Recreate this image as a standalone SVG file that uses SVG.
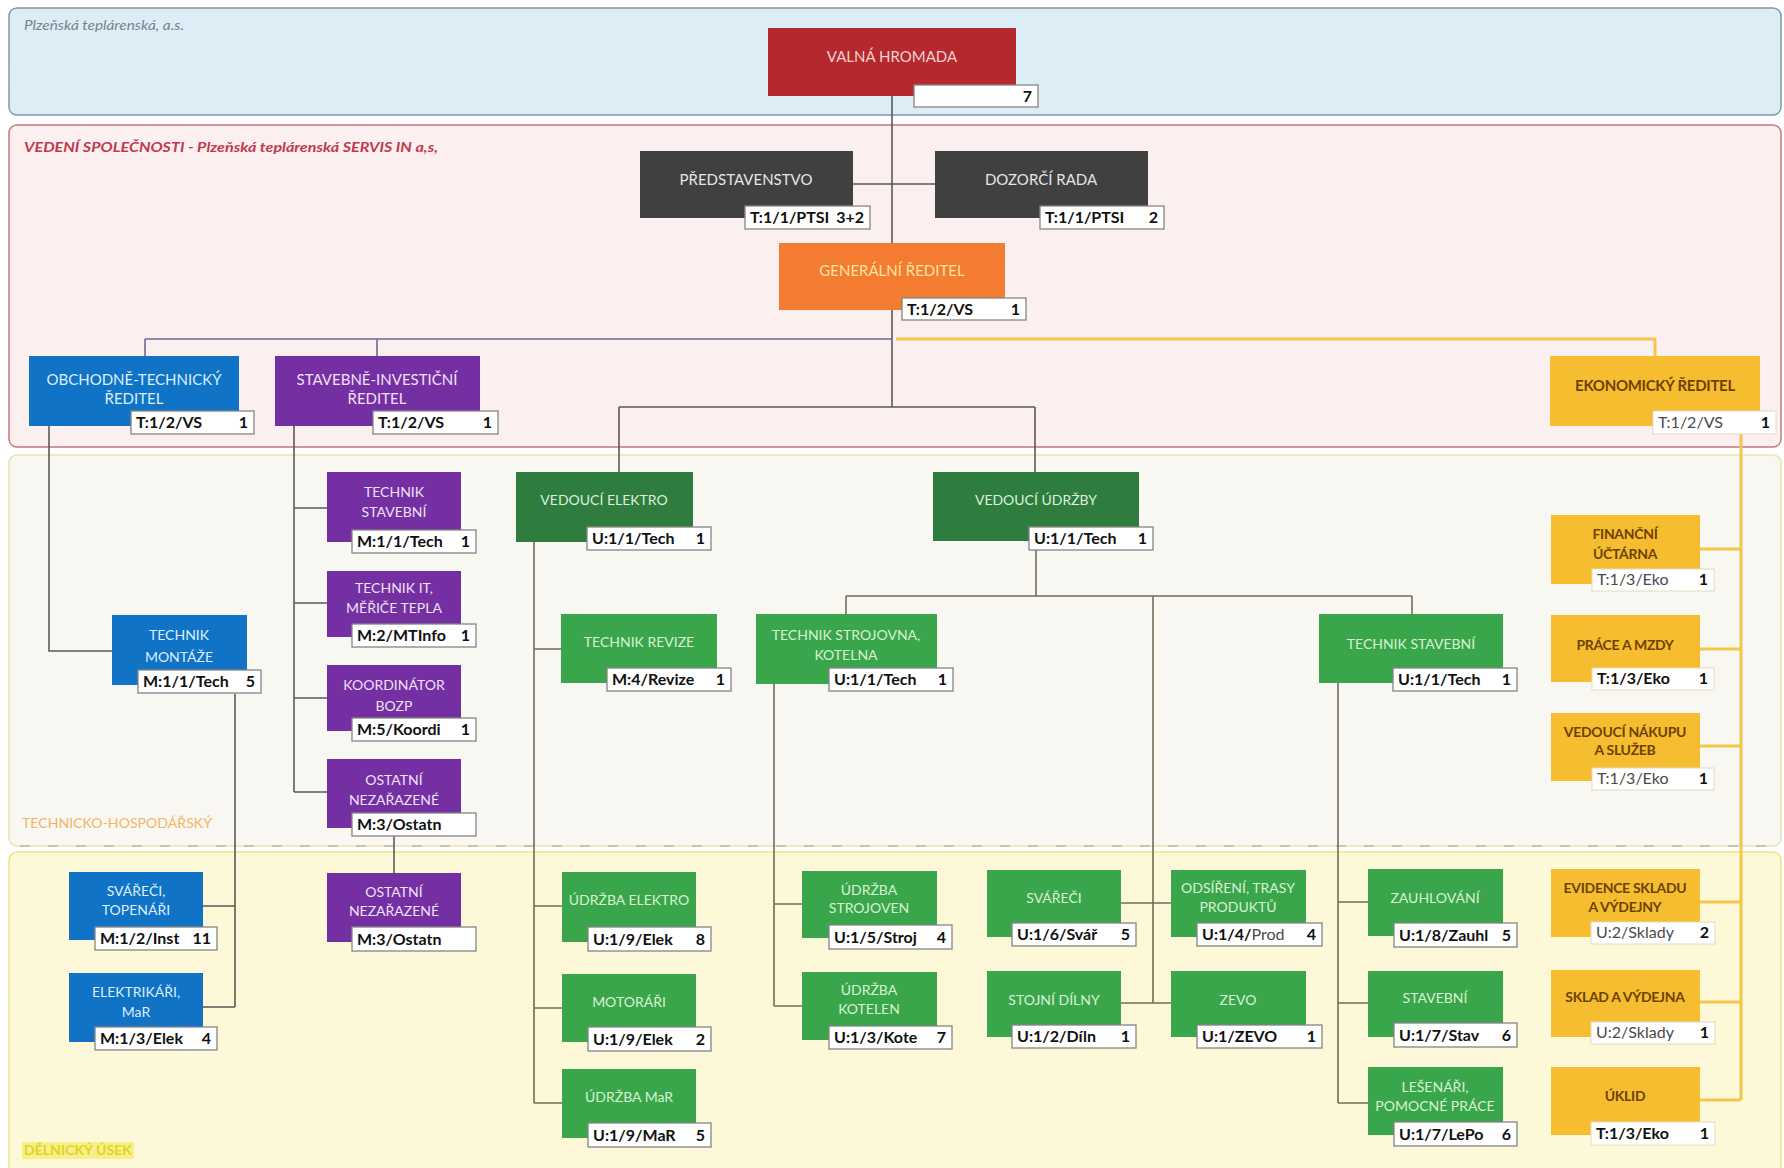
<svg xmlns="http://www.w3.org/2000/svg" width="1784" height="1168" viewBox="0 0 1784 1168">
<style>
.band{stroke-width:1.5}
.t{font-family:Lato,"Liberation Sans",sans-serif;font-size:14px;text-anchor:middle}
.tb{font-size:15px}
.tw{fill:#f2d2d2}.tg{fill:#e6e6e6}.to{fill:#fde3a6}.tbl{fill:#dcefff}.tp{fill:#f0e0f8}.tdg{fill:#dcefdc}.tlg{fill:#d8f2d2}
.ty{fill:#6e4200;font-weight:bold;letter-spacing:-0.3px}
.red{fill:#b5282d}.dg{fill:#404040}.or{fill:#f47c30}.bl{fill:#1073c6}.pu{fill:#7430a2}.gd{fill:#2f7d3e}.gl{fill:#3aa64b}.ye{fill:#f6bd30}
.lb{fill:#fff;stroke:#858585;stroke-width:1.3}
.lby{fill:#fff;stroke:#e2dcc0;stroke-width:1}
.lc{font-family:Lato,"Liberation Sans",sans-serif;font-weight:bold;font-size:16px;fill:#111}
.lg{fill:#4a4a4a;font-weight:normal}
.ln{font-family:Lato,"Liberation Sans",sans-serif;font-weight:bold;font-size:16px;fill:#111;text-anchor:end}
.c{fill:none;stroke:#5a5a5a;stroke-width:1.6}
.cg{fill:none;stroke:#6e6e58;stroke-width:1.6}
.cb{fill:none;stroke:#6a6a98;stroke-width:1.6}
.cy{fill:none;stroke:#f4c64a;stroke-width:3}
</style>

<g id="bands">
<rect class="band" x="9" y="8" width="1772" height="107" rx="8" fill="#dcedf6" stroke="#8297a8"/>
<rect class="band" x="9" y="125" width="1772" height="322" rx="8" fill="#fbefef" stroke="#c27a84"/>
<rect class="band" x="9" y="455" width="1772" height="391" rx="8" fill="#f9f7f1" stroke="#ebe2b0"/>
<rect class="band" x="9" y="852" width="1772" height="330" rx="8" fill="#fdf9d8" stroke="#efe47f"/>
<line x1="20" y1="846" x2="1775" y2="846" stroke="#a0a0a0" stroke-width="1" stroke-dasharray="10 18"/>
<text x="24" y="30" font-family="Lato,'Liberation Sans',sans-serif" font-style="italic" font-size="14" fill="#74848f" textLength="160" lengthAdjust="spacingAndGlyphs">Plzeňská teplárenská, a.s.</text>
<text x="24" y="152" font-family="Lato,'Liberation Sans',sans-serif" font-style="italic" font-weight="bold" font-size="14" fill="#c0394f" textLength="414" lengthAdjust="spacingAndGlyphs">VEDENÍ SPOLEČNOSTI - Plzeňská teplárenská SERVIS IN a,s,</text>
<text x="22" y="828" font-family="Lato,'Liberation Sans',sans-serif" font-size="13" fill="#f2b56a" textLength="190" lengthAdjust="spacingAndGlyphs">TECHNICKO-HOSPODÁŘSKÝ</text>
<rect x="22" y="1142" width="112" height="17" fill="#f6f08a"/>
<text x="24" y="1155" font-family="Lato,'Liberation Sans',sans-serif" font-weight="bold" font-size="13" fill="#e0d428" textLength="108" lengthAdjust="spacingAndGlyphs">DĚLNICKÝ ÚSEK</text>
</g>

<g id="connectors">
<path class="c" d="M892,96 V243 M853,184 H935 M892,310 V407 M619,407 H1035 M619,407 V472 M1035,407 V472"/>
<path class="cb" d="M145,339 H892 M145,339 V356 M377,339 V356"/>
<path class="c" d="M49,426 V651 H112"/>
<path class="c" d="M294,426 V792 M294,508 H327 M294,603 H327 M294,698 H327 M294,792 H327"/>
<path class="c" d="M235,694 V1007 M203,906 H235 M203,1007 H235"/>
<path class="c" d="M394,836 V873"/>
<path class="cg" d="M534,542 V1103 M534,649 H561 M534,906 H562 M534,1008 H562 M534,1103 H562"/>
<path class="cg" d="M1036,550 V596 M846,596 H1412 M846,596 V614 M1412,596 V614 M1153,596 V1003"/>
<path class="cg" d="M774,684 V1006 M774,904 H802 M774,1006 H802"/>
<path class="cg" d="M1121,903 H1171 M1121,1003 H1171"/>
<path class="cg" d="M1338,683 V1103 M1338,902 H1368 M1338,1003 H1368 M1338,1103 H1368"/>
<path class="cy" d="M896,339 H1655 V356"/>
<path class="cy" d="M1741,434 V1100 M1700,549 H1741 M1700,649 H1741 M1700,746 H1741 M1700,902 H1741 M1700,1002 H1741 M1700,1100 H1741"/>
</g>

<g id="n-valna-hromada"><rect class="red" x="768" y="28" width="248" height="68"/><text class="t tb tw" x="892" y="62">VALNÁ HROMADA</text><rect class="lb" x="914" y="85" width="124" height="22"/><text class="ln" x="1032" y="102">7</text></g>
<g id="n-predstavenstvo"><rect class="dg" x="640" y="151" width="213" height="67"/><text class="t tb tg" x="746" y="185">PŘEDSTAVENSTVO</text><rect class="lb" x="745" y="206" width="125" height="23"/><text class="lc" x="750" y="223">T:1/1/PTSI</text><text class="ln" x="864" y="223">3+2</text></g>
<g id="n-dozorci-rada"><rect class="dg" x="935" y="151" width="213" height="67"/><text class="t tb tg" x="1041" y="185">DOZORČÍ RADA</text><rect class="lb" x="1040" y="206" width="124" height="23"/><text class="lc" x="1045" y="223">T:1/1/PTSI</text><text class="ln" x="1158" y="223">2</text></g>
<g id="n-generalni-reditel"><rect class="or" x="779" y="243" width="226" height="67"/><text class="t tb to" x="892" y="276">GENERÁLNÍ ŘEDITEL</text><rect class="lb" x="902" y="298" width="124" height="22"/><text class="lc" x="907" y="315">T:1/2/VS</text><text class="ln" x="1020" y="315">1</text></g>
<g id="n-obchodne-technicky"><rect class="bl" x="29" y="356" width="210" height="70"/><text class="t tb tbl" x="134" y="385">OBCHODNĚ-TECHNICKÝ</text><text class="t tb tbl" x="134" y="404">ŘEDITEL</text><rect class="lb" x="131" y="411" width="123" height="23"/><text class="lc" x="136" y="428">T:1/2/VS</text><text class="ln" x="248" y="428">1</text></g>
<g id="n-stavebne-investicni"><rect class="pu" x="275" y="356" width="205" height="70"/><text class="t tb tp" x="377" y="385">STAVEBNĚ-INVESTIČNÍ</text><text class="t tb tp" x="377" y="404">ŘEDITEL</text><rect class="lb" x="373" y="411" width="125" height="23"/><text class="lc" x="378" y="428">T:1/2/VS</text><text class="ln" x="492" y="428">1</text></g>
<g id="n-ekonomicky-reditel"><rect class="ye" x="1550" y="356" width="210" height="70"/><text class="t tb ty" x="1655" y="391">EKONOMICKÝ ŘEDITEL</text><rect class="lby" x="1653" y="411" width="123" height="23"/><text class="lc lg" x="1658" y="428">T:1/2/VS</text><text class="ln" x="1770" y="428">1</text></g>

<g id="n-technik-stavebni-m"><rect class="pu" x="327" y="472" width="134" height="70"/><text class="t tp" x="394" y="497">TECHNIK</text><text class="t tp" x="394" y="517">STAVEBNÍ</text><rect class="lb" x="352" y="530" width="124" height="23"/><text class="lc" x="357" y="547">M:1/1/Tech</text><text class="ln" x="470" y="547">1</text></g>
<g id="n-technik-it"><rect class="pu" x="327" y="571" width="134" height="66"/><text class="t tp" x="394" y="593">TECHNIK IT,</text><text class="t tp" x="394" y="613">MĚŘIČE TEPLA</text><rect class="lb" x="352" y="624" width="124" height="23"/><text class="lc" x="357" y="641">M:2/MTInfo</text><text class="ln" x="470" y="641">1</text></g>
<g id="n-koordinator"><rect class="pu" x="327" y="665" width="134" height="66"/><text class="t tp" x="394" y="690">KOORDINÁTOR</text><text class="t tp" x="394" y="711">BOZP</text><rect class="lb" x="352" y="718" width="124" height="23"/><text class="lc" x="357" y="735">M:5/Koordi</text><text class="ln" x="470" y="735">1</text></g>
<g id="n-ostatni-1"><rect class="pu" x="327" y="759" width="134" height="69"/><text class="t tp" x="394" y="785">OSTATNÍ</text><text class="t tp" x="394" y="805">NEZAŘAZENÉ</text><rect class="lb" x="352" y="813" width="124" height="23"/><text class="lc" x="357" y="830">M:3/Ostatn</text></g>
<g id="n-technik-montaze"><rect class="bl" x="112" y="615" width="135" height="70"/><text class="t tbl" x="179" y="640">TECHNIK</text><text class="t tbl" x="179" y="662">MONTÁŽE</text><rect class="lb" x="138" y="670" width="123" height="23"/><text class="lc" x="143" y="687">M:1/1/Tech</text><text class="ln" x="255" y="687">5</text></g>
<g id="n-vedouci-elektro"><rect class="gd" x="516" y="472" width="177" height="70"/><text class="t tdg" x="604" y="505">VEDOUCÍ ELEKTRO</text><rect class="lb" x="587" y="527" width="124" height="23"/><text class="lc" x="592" y="544">U:1/1/Tech</text><text class="ln" x="705" y="544">1</text></g>
<g id="n-vedouci-udrzby"><rect class="gd" x="933" y="472" width="206" height="69"/><text class="t tdg" x="1036" y="505">VEDOUCÍ ÚDRŽBY</text><rect class="lb" x="1029" y="527" width="124" height="23"/><text class="lc" x="1034" y="544">U:1/1/Tech</text><text class="ln" x="1147" y="544">1</text></g>
<g id="n-technik-revize"><rect class="gl" x="561" y="614" width="156" height="69"/><text class="t tlg" x="639" y="647">TECHNIK REVIZE</text><rect class="lb" x="607" y="668" width="124" height="23"/><text class="lc" x="612" y="685">M:4/Revize</text><text class="ln" x="725" y="685">1</text></g>
<g id="n-technik-strojovna"><rect class="gl" x="756" y="614" width="181" height="70"/><text class="t tlg" x="846" y="640">TECHNIK STROJOVNA,</text><text class="t tlg" x="846" y="660">KOTELNA</text><rect class="lb" x="829" y="668" width="124" height="23"/><text class="lc" x="834" y="685">U:1/1/Tech</text><text class="ln" x="947" y="685">1</text></g>
<g id="n-technik-stavebni-u"><rect class="gl" x="1319" y="614" width="184" height="69"/><text class="t tlg" x="1411" y="649">TECHNIK STAVEBNÍ</text><rect class="lb" x="1393" y="668" width="124" height="23"/><text class="lc" x="1398" y="685">U:1/1/Tech</text><text class="ln" x="1511" y="685">1</text></g>
<g id="n-financni-uctarna"><rect class="ye" x="1551" y="515" width="149" height="69"/><text class="t ty" x="1625" y="539">FINANČNÍ</text><text class="t ty" x="1625" y="559">ÚČTÁRNA</text><rect class="lby" x="1592" y="569" width="122" height="22"/><text class="lc lg" x="1597" y="585">T:1/3/Eko</text><text class="ln" x="1708" y="585">1</text></g>
<g id="n-prace-a-mzdy"><rect class="ye" x="1551" y="615" width="149" height="67"/><text class="t ty" x="1625" y="650">PRÁCE A MZDY</text><rect class="lby" x="1592" y="668" width="122" height="22"/><text class="lc" x="1597" y="684">T:1/3/Eko</text><text class="ln" x="1708" y="684">1</text></g>
<g id="n-vedouci-nakupu"><rect class="ye" x="1551" y="713" width="149" height="68"/><text class="t ty" x="1625" y="737">VEDOUCÍ NÁKUPU</text><text class="t ty" x="1625" y="755">A SLUŽEB</text><rect class="lby" x="1592" y="768" width="122" height="22"/><text class="lc lg" x="1597" y="784">T:1/3/Eko</text><text class="ln" x="1708" y="784">1</text></g>

<g id="n-svareci-topenari"><rect class="bl" x="69" y="872" width="134" height="68"/><text class="t tbl" x="136" y="896">SVÁŘEČI,</text><text class="t tbl" x="136" y="915">TOPENÁŘI</text><rect class="lb" x="95" y="927" width="122" height="23"/><text class="lc" x="100" y="944">M:1/2/Inst</text><text class="ln" x="211" y="944">11</text></g>
<g id="n-elektrikari"><rect class="bl" x="69" y="973" width="134" height="69"/><text class="t tbl" x="136" y="997">ELEKTRIKÁŘI,</text><text class="t tbl" x="136" y="1017">MaR</text><rect class="lb" x="95" y="1027" width="122" height="23"/><text class="lc" x="100" y="1044">M:1/3/Elek</text><text class="ln" x="211" y="1044">4</text></g>
<g id="n-ostatni-2"><rect class="pu" x="327" y="873" width="134" height="69"/><text class="t tp" x="394" y="897">OSTATNÍ</text><text class="t tp" x="394" y="916">NEZAŘAZENÉ</text><rect class="lb" x="352" y="927" width="124" height="24"/><text class="lc" x="357" y="945">M:3/Ostatn</text></g>
<g id="n-udrzba-elektro"><rect class="gl" x="562" y="872" width="134" height="70"/><text class="t tlg" x="629" y="905">ÚDRŽBA ELEKTRO</text><rect class="lb" x="588" y="927" width="123" height="24"/><text class="lc" x="593" y="945">U:1/9/Elek</text><text class="ln" x="705" y="945">8</text></g>
<g id="n-motorari"><rect class="gl" x="562" y="974" width="134" height="68"/><text class="t tlg" x="629" y="1007">MOTORÁŘI</text><rect class="lb" x="588" y="1027" width="123" height="24"/><text class="lc" x="593" y="1045">U:1/9/Elek</text><text class="ln" x="705" y="1045">2</text></g>
<g id="n-udrzba-mar"><rect class="gl" x="562" y="1069" width="134" height="69"/><text class="t tlg" x="629" y="1102">ÚDRŽBA MaR</text><rect class="lb" x="588" y="1123" width="123" height="24"/><text class="lc" x="593" y="1141">U:1/9/MaR</text><text class="ln" x="705" y="1141">5</text></g>
<g id="n-udrzba-strojoven"><rect class="gl" x="802" y="871" width="135" height="67"/><text class="t tlg" x="869" y="895">ÚDRŽBA</text><text class="t tlg" x="869" y="913">STROJOVEN</text><rect class="lb" x="829" y="925" width="123" height="24"/><text class="lc" x="834" y="943">U:1/5/Stroj</text><text class="ln" x="946" y="943">4</text></g>
<g id="n-udrzba-kotelen"><rect class="gl" x="802" y="972" width="135" height="68"/><text class="t tlg" x="869" y="995">ÚDRŽBA</text><text class="t tlg" x="869" y="1014">KOTELEN</text><rect class="lb" x="829" y="1026" width="123" height="23"/><text class="lc" x="834" y="1043">U:1/3/Kote</text><text class="ln" x="946" y="1043">7</text></g>
<g id="n-svareci"><rect class="gl" x="987" y="870" width="134" height="67"/><text class="t tlg" x="1054" y="903">SVÁŘEČI</text><rect class="lb" x="1012" y="923" width="124" height="23"/><text class="lc" x="1017" y="940">U:1/6/Svář</text><text class="ln" x="1130" y="940">5</text></g>
<g id="n-stojni-dilny"><rect class="gl" x="987" y="971" width="134" height="66"/><text class="t tlg" x="1054" y="1005">STOJNÍ DÍLNY</text><rect class="lb" x="1012" y="1025" width="124" height="23"/><text class="lc" x="1017" y="1042">U:1/2/Díln</text><text class="ln" x="1130" y="1042">1</text></g>
<g id="n-odsireni"><rect class="gl" x="1171" y="870" width="135" height="67"/><text class="t tlg" x="1238" y="893">ODSÍŘENÍ, TRASY</text><text class="t tlg" x="1238" y="912">PRODUKTŮ</text><rect class="lb" x="1197" y="923" width="125" height="23"/><text class="lc" x="1202" y="940">U:1/4/<tspan class="lg">Prod</tspan></text><text class="ln" x="1316" y="940">4</text></g>
<g id="n-zevo"><rect class="gl" x="1171" y="971" width="135" height="66"/><text class="t tlg" x="1238" y="1005">ZEVO</text><rect class="lb" x="1197" y="1025" width="125" height="23"/><text class="lc" x="1202" y="1042">U:1/ZEVO</text><text class="ln" x="1316" y="1042">1</text></g>
<g id="n-zauhlovani"><rect class="gl" x="1368" y="869" width="135" height="67"/><text class="t tlg" x="1435" y="903">ZAUHLOVÁNÍ</text><rect class="lb" x="1394" y="923" width="123" height="24"/><text class="lc" x="1399" y="941">U:1/8/Zauhl</text><text class="ln" x="1511" y="941">5</text></g>
<g id="n-stavebni"><rect class="gl" x="1368" y="971" width="135" height="66"/><text class="t tlg" x="1435" y="1003">STAVEBNÍ</text><rect class="lb" x="1394" y="1023" width="123" height="24"/><text class="lc" x="1399" y="1041">U:1/7/Stav</text><text class="ln" x="1511" y="1041">6</text></g>
<g id="n-lesenari"><rect class="gl" x="1368" y="1067" width="135" height="68"/><text class="t tlg" x="1435" y="1092">LEŠENÁŘI,</text><text class="t tlg" x="1435" y="1111">POMOCNÉ PRÁCE</text><rect class="lb" x="1394" y="1122" width="123" height="24"/><text class="lc" x="1399" y="1140">U:1/7/LePo</text><text class="ln" x="1511" y="1140">6</text></g>
<g id="n-evidence-skladu"><rect class="ye" x="1551" y="869" width="149" height="68"/><text class="t ty" x="1625" y="893">EVIDENCE SKLADU</text><text class="t ty" x="1625" y="912">A VÝDEJNY</text><rect class="lby" x="1591" y="922" width="124" height="22"/><text class="lc lg" x="1596" y="938">U:2/Sklady</text><text class="ln" x="1709" y="938">2</text></g>
<g id="n-sklad-a-vydejna"><rect class="ye" x="1551" y="970" width="149" height="67"/><text class="t ty" x="1625" y="1002">SKLAD A VÝDEJNA</text><rect class="lby" x="1591" y="1022" width="124" height="22"/><text class="lc lg" x="1596" y="1038">U:2/Sklady</text><text class="ln" x="1709" y="1038">1</text></g>
<g id="n-uklid"><rect class="ye" x="1551" y="1067" width="149" height="68"/><text class="t ty" x="1625" y="1101">ÚKLID</text><rect class="lby" x="1591" y="1122" width="124" height="23"/><text class="lc" x="1596" y="1139">T:1/3/Eko</text><text class="ln" x="1709" y="1139">1</text></g>
</svg>
